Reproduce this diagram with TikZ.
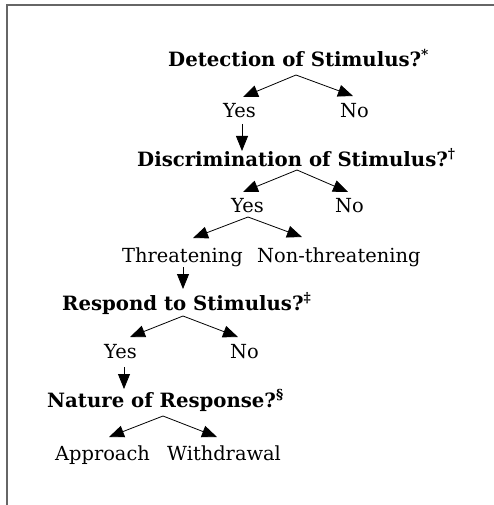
\documentclass[tikz,border=0pt]{standalone}
\usepackage{fontspec}
\setmainfont{DejaVu Serif}
\usetikzlibrary{arrows.meta}
\begin{document}
\begin{tikzpicture}[x=1pt,y=-1pt,
  lbl/.style={anchor=base west,inner sep=0pt,font=\fontsize{19.4}{21}\selectfont},
  qn/.style={anchor=base west,inner sep=0pt,font=\fontsize{19.7}{21}\selectfont\bfseries},
  br/.style={-{Triangle[length=15pt,width=12pt]},line width=0.8pt},
  frame/.style={draw=black!60,line width=1.2pt}]
\useasboundingbox (0,0) rectangle (494,505);
\draw[frame] (7,505) -- (7,5) -- (494,5);
% nodes
\node[qn] (det) at (168,67) {Detection of Stimulus?\textsuperscript{*}};
\node[lbl] (yes1) at (223,118) {Yes};
\node[lbl] (no1) at (340,118) {No};
\node[qn] (disc) at (137,166) {Discrimination of Stimulus?\textsuperscript{†}};
\node[lbl] (yes2) at (231,212) {Yes};
\node[lbl] (no2) at (335,212) {No};
\node[lbl] (thr) at (122,262) {Threatening};
\node[lbl] (nthr) at (257,262) {Non-threatening};
\node[qn] (resp) at (62,310) {Respond to Stimulus?\textsuperscript{‡}};
\node[lbl] (yes3) at (104,358) {Yes};
\node[lbl] (no3) at (230,358) {No};
\node[qn] (nat) at (47,407) {Nature of Response?\textsuperscript{§}};
\node[lbl] (appr) at (55,460) {Approach};
\node[lbl] (with) at (167,460) {Withdrawal};
% connector points
\coordinate (a1) at (296,75);
\coordinate (a2) at (297,170);
\coordinate (a3) at (248,217);
\coordinate (a4) at (183,316);
\coordinate (a5) at (163,416);
\draw[br] (a1) -- (243,97);
\draw[br] (a1) -- (353,96);
\draw[br] (242,124) -- (242,151);
\draw[br] (a2) -- (243,192);
\draw[br] (a2) -- (348,192);
\draw[br] (a3) -- (193,238);
\draw[br] (a3) -- (302,237);
\draw[br] (183,267) -- (183,289);
\draw[br] (a4) -- (130,337);
\draw[br] (a4) -- (238,337);
\draw[br] (124,367) -- (124,389);
\draw[br] (a5) -- (109,437);
\draw[br] (a5) -- (217,437);
\end{tikzpicture}
\end{document}
